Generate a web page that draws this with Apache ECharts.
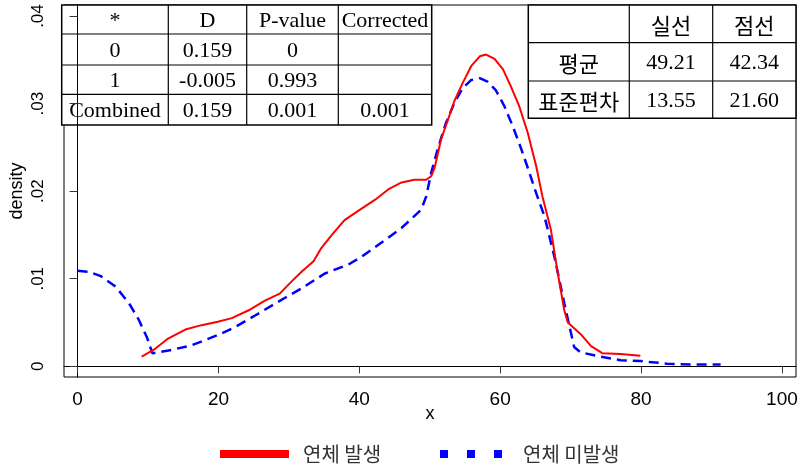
<!DOCTYPE html>
<html>
<head>
<meta charset="utf-8">
<script src="https://cdn.jsdelivr.net/npm/echarts@6/dist/echarts.min.js"></script>
<style>
  html, body { margin: 0; padding: 0; background: #fff; }
  #chart { width: 801px; height: 465px; }
</style>
</head>
<body>
<div id="chart"></div>
<script>
// Kernel density estimates: [x, density]
const seriesNames = ['연체 발생', '연체 미발생'];

const delinquent = [
  [9.1, 0.0011], [11.0, 0.0020], [12.9, 0.0032], [15.3, 0.0042], [17.6, 0.0047],
  [19.9, 0.0051], [21.9, 0.0055], [24.3, 0.0064], [26.6, 0.0075], [28.7, 0.0083],
  [30.4, 0.0097], [31.8, 0.0108], [33.5, 0.0120], [34.6, 0.0135], [36.1, 0.0150],
  [37.9, 0.0167], [40.1, 0.0179], [42.2, 0.0190], [44.1, 0.0202], [46.0, 0.0210],
  [47.8, 0.0213], [49.5, 0.0213], [50.2, 0.0217], [50.7, 0.0227], [51.6, 0.0259],
  [52.6, 0.0282], [53.5, 0.0303], [54.7, 0.0324], [55.9, 0.0343], [57.1, 0.0354],
  [58.0, 0.0356], [59.2, 0.0351], [60.4, 0.0339], [61.5, 0.0320], [62.7, 0.0297],
  [63.9, 0.0267], [65.1, 0.0229], [66.0, 0.0194], [67.2, 0.0156], [68.1, 0.0110],
  [69.1, 0.0064], [69.6, 0.0050], [71.4, 0.0037], [72.9, 0.0023], [74.5, 0.0015],
  [77.1, 0.0014], [79.9, 0.0012]
];

const nonDelinquent = [
  [0.0, 0.0109], [1.6, 0.0108], [3.3, 0.0103], [5.4, 0.0091], [7.3, 0.0072],
  [8.7, 0.0053], [9.9, 0.0032], [10.6, 0.0015], [12.9, 0.0018], [16.2, 0.0024],
  [20.0, 0.0036], [22.4, 0.0045], [25.2, 0.0058], [29.4, 0.0078], [31.8, 0.0089],
  [35.1, 0.0106], [38.4, 0.0116], [40.3, 0.0125], [43.1, 0.0141], [46.0, 0.0158],
  [48.8, 0.0179], [49.5, 0.0194], [50.2, 0.0221], [51.2, 0.0250], [52.3, 0.0278],
  [53.5, 0.0301], [54.7, 0.0318], [55.9, 0.0327], [57.1, 0.0329], [58.2, 0.0325],
  [59.4, 0.0315], [60.6, 0.0297], [61.8, 0.0274], [63.0, 0.0248], [63.9, 0.0227],
  [65.1, 0.0198], [66.3, 0.0171], [67.7, 0.0125], [69.1, 0.0072], [70.5, 0.0022],
  [71.4, 0.0016], [74.3, 0.0011], [77.1, 0.0007], [79.9, 0.0006], [83.7, 0.0003],
  [87.5, 0.0002], [91.3, 0.0002]
];

const xTicks = [0, 20, 40, 60, 80, 100];
const yTicks = [0, 0.01, 0.02, 0.03, 0.04];
const yTickLabels = ['0', '.01', '.02', '.03', '.04'];

// Kolmogorov-Smirnov test table
const ksHeader = ['*', 'D', 'P-value', 'Corrected'];
const ksRows = [
  ['0', '0.159', '0', ''],
  ['1', '-0.005', '0.993', ''],
  ['Combined', '0.159', '0.001', '0.001']
];

// Summary statistics table
const statHeader = ['', '실선', '점선'];
const statRows = [
  ['평균', '49.21', '42.34'],
  ['표준편차', '13.55', '21.60']
];

// ---- layout ----
const SERIF = "'Liberation Serif', 'Times New Roman', 'Noto Sans CJK KR', serif";
const SANS = "'Liberation Sans', Arial, sans-serif";
const KR = "'Noto Sans CJK KR', sans-serif";

function buildTable(colEdges, rowEdges, cells) {
  const children = [];
  const x0 = colEdges[0], x1 = colEdges[colEdges.length - 1];
  const y0 = rowEdges[0], y1 = rowEdges[rowEdges.length - 1];
  children.push({
    type: 'rect', shape: { x: x0, y: y0, width: x1 - x0, height: y1 - y0 },
    style: { fill: '#fff', stroke: '#000', lineWidth: 1.5 }
  });
  for (let i = 1; i < colEdges.length - 1; i++) {
    children.push({ type: 'line', shape: { x1: colEdges[i], y1: y0, x2: colEdges[i], y2: y1 },
      style: { stroke: '#000', lineWidth: 1.2 } });
  }
  for (let j = 1; j < rowEdges.length - 1; j++) {
    children.push({ type: 'line', shape: { x1: x0, y1: rowEdges[j], x2: x1, y2: rowEdges[j] },
      style: { stroke: '#000', lineWidth: 1.2 } });
  }
  cells.forEach((row, r) => {
    row.forEach((txt, c) => {
      if (!txt) return;
      const hasHangul = /[\uac00-\ud7a3]/.test(txt);
      children.push({
        type: 'text',
        x: (colEdges[c] + colEdges[c + 1]) / 2,
        y: (rowEdges[r] + rowEdges[r + 1]) / 2 + 1.5,
        style: {
          text: txt, fill: '#000',
          font: (hasHangul ? '22px ' + KR : '22px ' + SERIF),
          align: 'center', verticalAlign: 'middle'
        }
      });
    });
  });
  return { type: 'group', children: children, z: 100 };
}

const ksTable = buildTable(
  [61.7, 168.3, 246.7, 338.3, 431.7],
  [5, 34, 65, 94.3, 125],
  [ksHeader].concat(ksRows)
);
const statTable = buildTable(
  [528.3, 629.3, 712.7, 796],
  [5, 42.7, 81, 118.3],
  [statHeader].concat(statRows)
);

const legendText = { fontFamily: KR, fontSize: 20, color: '#333', padding: [0, 0, 0, 9] };

const chart = echarts.init(document.getElementById('chart'), null, { renderer: 'canvas' });

chart.setOption({
  animation: false,
  backgroundColor: '#fff',
  grid: {
    left: 62, right: 5, top: 5, bottom: 88,
    show: true, borderColor: '#000', borderWidth: 1, backgroundColor: 'transparent'
  },
  xAxis: {
    type: 'value',
    min: -1.93, max: 102,
    name: 'x',
    nameLocation: 'middle',
    nameGap: 28,
    nameMoveOverlap: false,
    nameTextStyle: { fontFamily: SANS, fontSize: 18, color: '#000' },
    axisLine: { show: true, lineStyle: { color: '#000', width: 1 } },
    axisTick: { show: true, length: 7, lineStyle: { color: '#333' }, customValues: xTicks },
    axisLabel: {
      customValues: xTicks,
      margin: 13,
      fontFamily: SANS, fontSize: 19, color: '#000'
    },
    splitLine: { show: false }
  },
  yAxis: {
    type: 'value',
    min: -0.00122, max: 0.04126,
    name: 'density',
    nameLocation: 'middle',
    nameGap: 38,
    nameMoveOverlap: false,
    nameTextStyle: { fontFamily: SANS, fontSize: 18, color: '#000' },
    axisLine: { show: true, lineStyle: { color: '#000', width: 1 } },
    axisTick: { show: true, length: 8, lineStyle: { color: '#333' }, customValues: yTicks },
    axisLabel: {
      customValues: yTicks,
      rotate: 90,
      margin: 17,
      fontFamily: SANS, fontSize: 17, color: '#000',
      formatter: function (v) {
        for (let i = 0; i < yTicks.length; i++) {
          if (Math.abs(yTicks[i] - v) < 1e-9) return yTickLabels[i];
        }
        return '';
      }
    },
    splitLine: { show: false }
  },
  legend: [
    {
      left: 220, top: 444, padding: 0,
      itemWidth: 69, itemHeight: 14,
      textStyle: legendText,
      data: [{ name: seriesNames[0], icon: 'path://M0,3H69V11H0Z', itemStyle: { color: '#ff0000' } }]
    },
    {
      left: 440, top: 444, padding: 0,
      itemWidth: 69, itemHeight: 14,
      textStyle: legendText,
      data: [{ name: seriesNames[1], icon: 'path://M0,0L0,0ZM0,3H8V11H0ZM27,3H35V11H27ZM54,3H62V11H54ZM69,14L69,14Z', itemStyle: { color: '#0000ff' } }]
    }
  ],
  series: [
    {
      name: seriesNames[0], type: 'line', data: delinquent,
      showSymbol: false, symbol: 'none', smooth: false,
      lineStyle: { color: '#ff0000', width: 2, type: 'solid' },
      itemStyle: { color: '#ff0000' }, z: 3
    },
    {
      name: seriesNames[1], type: 'line', data: nonDelinquent,
      showSymbol: false, symbol: 'none', smooth: false,
      lineStyle: { color: '#0000ff', width: 2.5, type: [10, 6] },
      itemStyle: { color: '#0000ff' }, z: 2
    }
  ],
  graphic: [ksTable, statTable]
});
</script>
</body>
</html>
